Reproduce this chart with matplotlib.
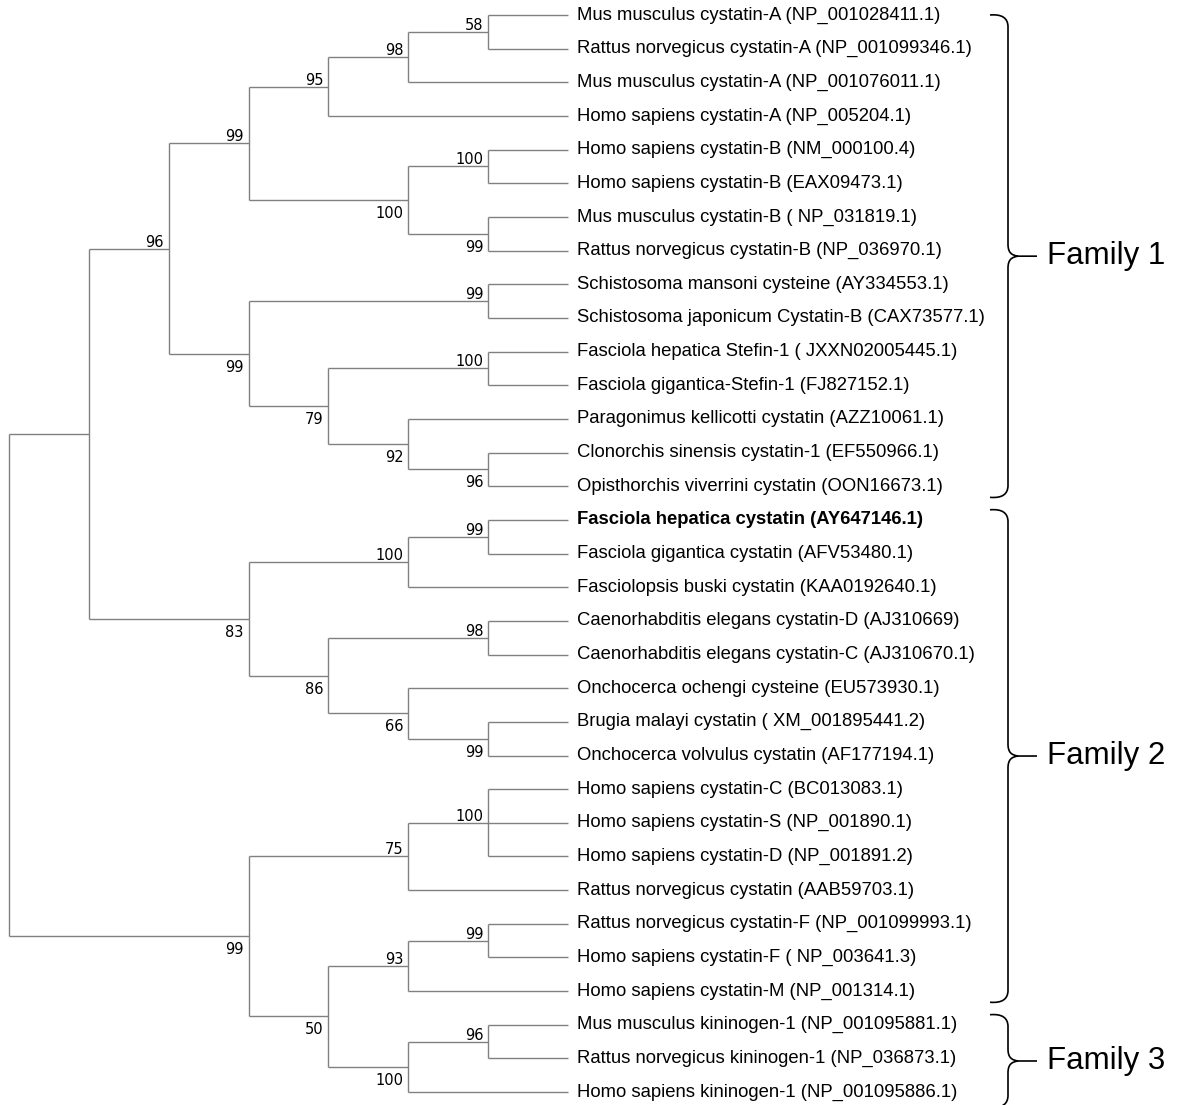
import matplotlib
matplotlib.use("Agg")
import matplotlib.pyplot as plt
from matplotlib.path import Path
from matplotlib.patches import PathPatch

# ---------------- data ----------------
leaf_labels = [
    "Mus musculus cystatin-A (NP_001028411.1)",
    "Rattus norvegicus cystatin-A (NP_001099346.1)",
    "Mus musculus cystatin-A (NP_001076011.1)",
    "Homo sapiens cystatin-A (NP_005204.1)",
    "Homo sapiens cystatin-B (NM_000100.4)",
    "Homo sapiens cystatin-B (EAX09473.1)",
    "Mus musculus cystatin-B ( NP_031819.1)",
    "Rattus norvegicus cystatin-B (NP_036970.1)",
    "Schistosoma mansoni cysteine (AY334553.1)",
    "Schistosoma japonicum Cystatin-B (CAX73577.1)",
    "Fasciola hepatica Stefin-1 ( JXXN02005445.1)",
    "Fasciola gigantica-Stefin-1 (FJ827152.1)",
    "Paragonimus kellicotti cystatin (AZZ10061.1)",
    "Clonorchis sinensis cystatin-1 (EF550966.1)",
    "Opisthorchis viverrini cystatin (OON16673.1)",
    "Fasciola hepatica cystatin (AY647146.1)",
    "Fasciola gigantica cystatin (AFV53480.1)",
    "Fasciolopsis buski cystatin (KAA0192640.1)",
    "Caenorhabditis elegans cystatin-D (AJ310669)",
    "Caenorhabditis elegans cystatin-C (AJ310670.1)",
    "Onchocerca ochengi cysteine (EU573930.1)",
    "Brugia malayi cystatin ( XM_001895441.2)",
    "Onchocerca volvulus cystatin (AF177194.1)",
    "Homo sapiens cystatin-C (BC013083.1)",
    "Homo sapiens cystatin-S (NP_001890.1)",
    "Homo sapiens cystatin-D (NP_001891.2)",
    "Rattus norvegicus cystatin (AAB59703.1)",
    "Rattus norvegicus cystatin-F (NP_001099993.1)",
    "Homo sapiens cystatin-F ( NP_003641.3)",
    "Homo sapiens cystatin-M (NP_001314.1)",
    "Mus musculus kininogen-1 (NP_001095881.1)",
    "Rattus norvegicus kininogen-1 (NP_036873.1)",
    "Homo sapiens kininogen-1 (NP_001095886.1)",
]
bold_leaves = [15]

# tree topology: [bootstrap support, [children]]; ints are leaf indices
tree = [None, [
    [None, [
        [96, [
            [99, [
                [95, [[98, [[58, [0, 1]], 2]], 3]],
                [100, [[100, [4, 5]], [99, [6, 7]]]],
            ]],
            [99, [
                [99, [8, 9]],
                [79, [[100, [10, 11]], [92, [12, [96, [13, 14]]]]]],
            ]],
        ]],
        [83, [
            [100, [[99, [15, 16]], 17]],
            [86, [[98, [18, 19]], [66, [20, [99, [21, 22]]]]]],
        ]],
    ]],
    [99, [
        [75, [[100, [23, 24, 25]], 26]],
        [50, [[93, [[99, [27, 28]], 29]], [100, [[96, [30, 31]], 32]]]],
    ]],
]]

families = ["Family 1", "Family 2", "Family 3"]
family_ranges = [(0, 14), (15, 29), (30, 32)]

# ---------------- layout ----------------
W, H = 1179, 1105
fig = plt.figure(figsize=(W / 100, H / 100), dpi=100)
ax = fig.add_axes([0, 0, 1, 1])
ax.axis("off")

def height(node):
    if isinstance(node, int):
        return 0
    return 1 + max(height(c) for c in node[1])

max_h = height(tree)
x_root_px, x_leaf_px = 9, 568
y0_px, dy_px = 15, 33.66
px_per_level = (x_leaf_px - x_root_px) / max_h
ax.set_xlim(-x_root_px / px_per_level, (W - x_root_px) / px_per_level)
ax.set_ylim((H - y0_px) / dy_px, -y0_px / dy_px)

line_kw = dict(color="#808080", lw=1.0, solid_capstyle="butt")
labels = []

def draw(node, parent_x=None, pos=None):
    if isinstance(node, int):
        x, y = max_h, node
    else:
        sup, children = node
        x = max_h - height(node)
        ys = []
        n = len(children)
        for i, c in enumerate(children):
            p = "top" if i == 0 else ("bottom" if i == n - 1 else "mid")
            ys.append(draw(c, x, p))
        y = (ys[0] + ys[-1]) / 2
        ax.plot([x, x], [ys[0], ys[-1]], **line_kw)
        if sup is not None:
            labels.append((sup, x, y, pos))
    if parent_x is not None:
        ax.plot([parent_x, x], [y, y], **line_kw)
    return y

draw(tree)

for sup, x, y, pos in labels:
    if pos == "top":
        ax.annotate(str(sup), xy=(x, y), xytext=(-5, 2), textcoords="offset pixels",
                    ha="right", va="baseline", fontsize=10.5, family="DejaVu Sans")
    else:
        ax.annotate(str(sup), xy=(x, y), xytext=(-5, -6), textcoords="offset pixels",
                    ha="right", va="top", fontsize=10.5, family="DejaVu Sans")

for i, lab in enumerate(leaf_labels):
    ax.annotate(lab, xy=(max_h, i), xytext=(9, 0), textcoords="offset pixels",
                ha="left", va="center", fontsize=13.3, family="Liberation Sans",
                fontweight="bold" if i in bold_leaves else "normal")

# ---------------- braces ----------------
ov = fig.add_axes([0, 0, 1, 1], facecolor="none")
ov.axis("off")
ov.set_xlim(0, W)
ov.set_ylim(H, 0)

def leaf_px(i):
    return y0_px + dy_px * i

xh, xv, xt = 990, 1008, 1037
for name, (a, b) in zip(families, family_ranges):
    yt = leaf_px(a) - 0.3 * dy_px if a > 0 else leaf_px(a)
    yb = leaf_px(b) + 0.33 * dy_px if b < len(leaf_labels) - 1 else leaf_px(b) + 0.45 * dy_px
    ym = (yt + yb) / 2
    verts = [
        (xh, yt), (xh + 12, yt - 1), (xv, yt + 3), (xv, yt + 12),
        (xv, ym - 12),
        (xv, ym - 3), (xv + 4, ym - 1), (xv + 10, ym),
        (xt, ym),
        (xv + 10, ym),
        (xv + 4, ym + 1), (xv, ym + 3), (xv, ym + 12),
        (xv, yb - 12),
        (xv, yb - 3), (xh + 12, yb + 1), (xh, yb),
    ]
    codes = [Path.MOVETO, Path.CURVE4, Path.CURVE4, Path.CURVE4,
             Path.LINETO,
             Path.CURVE4, Path.CURVE4, Path.CURVE4,
             Path.LINETO,
             Path.MOVETO,
             Path.CURVE4, Path.CURVE4, Path.CURVE4,
             Path.LINETO,
             Path.CURVE4, Path.CURVE4, Path.CURVE4]
    ov.add_patch(PathPatch(Path(verts, codes), fill=False, edgecolor="black", lw=1.2))
    ov.text(1047, ym, name, ha="left", va="center", fontsize=22.5, family="Liberation Sans")

fig.savefig("out.png", dpi=100, facecolor="white")
